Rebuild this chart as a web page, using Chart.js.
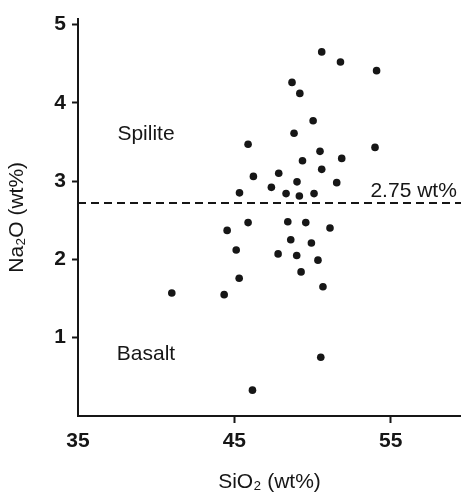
<!DOCTYPE html>
<html>
<head>
<meta charset="utf-8">
<script src="https://cdn.jsdelivr.net/npm/chart.js@4.4.1/dist/chart.umd.min.js"></script>
<style>
html,body{margin:0;padding:0;background:#fff;}
#wrap{width:461px;height:493px;}
</style>
</head>
<body>
<div id="wrap"><canvas id="c" width="461" height="493"></canvas></div>
<script>
// ---- data ----
const sio2 = [50.59, 51.79, 54.10, 48.69, 49.19, 50.04, 48.82, 45.88, 54.00, 50.48,
              49.36, 51.87, 50.59, 46.22, 47.84, 49.01, 51.55, 47.37, 45.33, 48.31,
              49.16, 50.10, 45.88, 44.54, 48.42, 49.57, 51.12, 48.61, 49.93, 45.12,
              47.80, 48.99, 50.35, 49.27, 45.31, 50.67, 41.00, 44.35, 50.53, 46.16];
const na2o = [4.65, 4.52, 4.41, 4.26, 4.12, 3.77, 3.61, 3.47, 3.43, 3.38,
              3.26, 3.29, 3.15, 3.06, 3.10, 2.99, 2.98, 2.92, 2.85, 2.84,
              2.81, 2.84, 2.47, 2.37, 2.48, 2.47, 2.40, 2.25, 2.21, 2.12,
              2.07, 2.05, 1.99, 1.84, 1.76, 1.65, 1.57, 1.55, 0.75, 0.33];
const thresholdNa2o = 2.72;
const thresholdSio2 = [35, 59.5];
const xTickValues = [35, 45, 55];
const yTickValues = [1, 2, 3, 4, 5];
const fieldNames = ['Spilite', 'Basalt'];
const thresholdText = '2.75 wt%';

// ---- styling ----
const FONT = '"Liberation Sans", Arial, Helvetica, sans-serif';
const INK = '#161616';

const textPlugin = {
  id: 'fieldText',
  afterDatasetsDraw(chart, args, opts) {
    const {ctx, scales: {x, y}} = chart;
    ctx.save();
    ctx.fillStyle = INK;
    ctx.font = '21px ' + FONT;
    ctx.textAlign = 'center';
    ctx.textBaseline = 'middle';
    opts.items.forEach(it => {
      ctx.fillText(it.text, x.getPixelForValue(it.x), y.getPixelForValue(it.y));
    });
    ctx.restore();
  }
};

const tickColor = ctx => (ctx.tick && ctx.tick.value === 35) ? 'rgba(0,0,0,0)' : INK;

new Chart(document.getElementById('c'), {
  type: 'scatter',
  data: {
    datasets: [
      {
        label: 'samples',
        data: sio2.map((v, i) => ({x: v, y: na2o[i]})),
        pointRadius: 3.8,
        pointBackgroundColor: INK,
        pointBorderWidth: 0,
        showLine: false
      },
      {
        label: 'threshold',
        type: 'line',
        data: thresholdSio2.map(v => ({x: v, y: thresholdNa2o})),
        borderColor: INK,
        borderWidth: 2,
        borderDash: [8, 5],
        pointRadius: 0,
        fill: false
      }
    ]
  },
  options: {
    responsive: false,
    devicePixelRatio: 1,
    animation: false,
    layout: {autoPadding: false, padding: {top: 12, right: 0, left: 0, bottom: 0}},
    plugins: {
      legend: {display: false},
      tooltip: {enabled: false},
      fieldText: {
        items: [
          {text: fieldNames[0], x: 39.35, y: 3.60},
          {text: fieldNames[1], x: 39.35, y: 0.79},
          {text: thresholdText, x: 56.47, y: 2.87}
        ]
      }
    },
    scales: {
      x: {
        type: 'linear',
        min: 35,
        max: 59.5,
        afterBuildTicks: s => { s.ticks = xTickValues.map(v => ({value: v})); },
        afterFit: s => { s.height = 77; },
        grid: {drawOnChartArea: false, drawTicks: true, tickLength: 7, tickWidth: 2, tickColor: tickColor},
        border: {display: true, color: INK, width: 2},
        ticks: {font: {size: 21, family: FONT, weight: 'bold'}, color: INK, padding: 6, maxRotation: 0, autoSkip: false},
        title: {display: true, text: 'SiO₂ (wt%)', font: {size: 21, family: FONT}, color: INK, padding: {top: 4, bottom: -2}}
      },
      y: {
        type: 'linear',
        min: 0,
        max: 5.075,
        afterBuildTicks: s => { s.ticks = yTickValues.map(v => ({value: v})); },
        afterFit: s => { s.width = 78; },
        grid: {drawOnChartArea: false, drawTicks: true, tickLength: 6, tickWidth: 2, tickColor: INK},
        border: {display: true, color: INK, width: 2},
        ticks: {font: {size: 21, family: FONT, weight: 'bold'}, color: INK, padding: 6, autoSkip: false},
        title: {display: true, text: 'Na₂O (wt%)', font: {size: 21, family: FONT}, color: INK, padding: {top: 5, bottom: 4}}
      }
    }
  },
  plugins: [textPlugin]
});
</script>
</body>
</html>
